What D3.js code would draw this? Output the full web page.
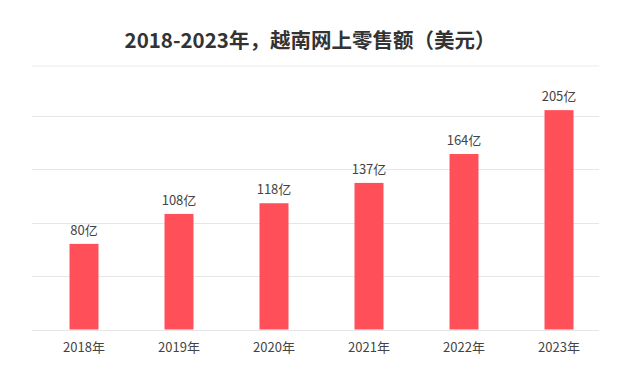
<!DOCTYPE html>
<html>
<head>
<meta charset="utf-8">
<script src="https://cdn.jsdelivr.net/npm/d3@7"></script>
<style>
  body { margin: 0; background: #fff; }
  svg { display: block; font-family: "Noto Sans CJK SC", "Noto Sans", sans-serif; }
</style>
</head>
<body>
<div id="chart"></div>
<script>
// --- Data ---
const years = ["2018年", "2019年", "2020年", "2021年", "2022年", "2023年"];
const sales = [80, 108, 118, 137, 164, 205];
const labels = ["80亿", "108亿", "118亿", "137亿", "164亿", "205亿"];
const gridTicks = [0, 50, 100, 150, 200];

const width = 619, height = 373;

const svg = d3.select("#chart").append("svg")
  .attr("width", width)
  .attr("height", height);

// Title
svg.append("text")
  .attr("x", 310)
  .attr("y", 48)
  .attr("text-anchor", "middle")
  .attr("font-size", "20.5px")
  .attr("font-weight", "700")
  .attr("fill", "#333")
  .text("2018-2023年，越南网上零售额（美元）");

// --- Scales ---
const x = d3.scaleBand()
  .domain(years)
  .range([36.5, 606.5])
  .paddingInner(0.695)
  .paddingOuter(0.3475);

const y = d3.scaleLinear()
  .domain([0, 200])
  .range([329.5, 115.5]);

// top separator line
svg.append("line")
  .attr("x1", 32).attr("x2", 599)
  .attr("y1", 66).attr("y2", 66)
  .attr("stroke", "#f2f2f2")
  .attr("stroke-width", 1.5);

// Gridlines
svg.append("g")
  .selectAll("line")
  .data(gridTicks)
  .join("line")
  .attr("x1", 32).attr("x2", 599)
  .attr("y1", (d) => Math.round(y(d)) + 0.5)
  .attr("y2", (d) => Math.round(y(d)) + 0.5)
  .attr("stroke", "#e6e6e6")
  .attr("stroke-width", 1);

// Bars
svg.append("g")
  .selectAll("rect")
  .data(sales)
  .join("rect")
  .attr("x", (d, i) => x(years[i]))
  .attr("y", (d) => y(d))
  .attr("width", x.bandwidth())
  .attr("height", (d) => y(0) - y(d))
  .attr("fill", "#ff4f58");

// Value labels
svg.append("g")
  .selectAll("text")
  .data(sales)
  .join("text")
  .attr("x", (d, i) => x(years[i]) + x.bandwidth() / 2)
  .attr("y", (d) => y(d) - 9)
  .attr("text-anchor", "middle")
  .attr("font-size", "13px")
  .attr("fill", "#444")
  .text((d, i) => labels[i]);

// X axis labels
svg.append("g")
  .selectAll("text")
  .data(years)
  .join("text")
  .attr("x", (d) => x(d) + x.bandwidth() / 2)
  .attr("y", 352)
  .attr("text-anchor", "middle")
  .attr("font-size", "13px")
  .attr("fill", "#444")
  .text((d) => d);
</script>
</body>
</html>
